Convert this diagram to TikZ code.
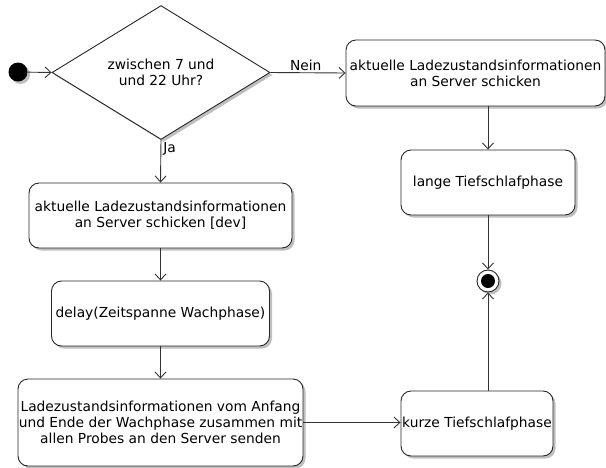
\documentclass[tikz,border=0pt]{standalone}
\usepackage{fontspec}
\setmainfont{DejaVu Sans}
\usepackage{tikz}
\usetikzlibrary{arrows.meta, shapes.geometric, shadows}

\begin{document}
\begin{tikzpicture}[x=1pt, y=-1pt,
    font=\fontsize{13.8}{16.3}\selectfont,
    >={Straight Barb[length=6pt, width=11pt]},
    line width=0.9pt, draw=black!80,
    shade/.style={drop shadow={shadow xshift=2.5pt, shadow yshift=-2.5pt, opacity=0.25, fill=black}},
    act/.style={draw=black!85, fill=white, rounded corners=10pt, align=center, inner sep=0pt, shade},
    lbl/.style={inner sep=2pt}]
      \useasboundingbox (0,0) rectangle (606,467);
      % Ablauf
      \node[circle, fill=black, minimum size=19pt, inner sep=0pt, shade] (start) at (18,72) {};
      \node[draw=black!85, fill=white, diamond, minimum width=218pt, minimum height=131pt,
            inner sep=0pt, align=center, shade] (decide) at (161,72.5) {zwischen 7 und\\und 22 Uhr?};

      \node[act, minimum width=259pt, minimum height=66pt] (sendnein) at (475.5,73) {aktuelle Ladezustandsinformationen\\an Server schicken};
      \node[act, minimum width=174pt, minimum height=65pt] (lang) at (488,182.5) {lange Tiefschlafphase};
      \node[circle, draw=black!85, fill=white, minimum size=22pt, inner sep=0pt, shade] (stop) at (488,281) {};
      \node[circle, fill=black, minimum size=14pt, inner sep=0pt] at (stop) {}; % inner dot of stop
      \node[act, minimum width=152pt, minimum height=65pt] (kurz) at (477,423.5) {kurze Tiefschlafphase};

      \node[act, minimum width=263pt, minimum height=65pt] (sendja) at (160.5,215.5) {aktuelle Ladezustandsinformationen\\an Server schicken [dev]};
      \node[act, minimum width=218pt, minimum height=65pt] (delay) at (160.5,313.5) {delay(Zeitspanne Wachphase)};
      \node[act, minimum width=285pt, minimum height=87pt] (probes) at (160.5,422.5) {Ladezustandsinformationen vom Anfang\\und Ende der Wachphase zusammen mit\\allen Probes an den Server senden};

      \draw[->] (start) -- (decide.west);
      \draw[->] (decide.east) -- (sendnein.west) node[lbl, pos=0.47, above] {Nein};
      \draw[->] (decide.south) -- (sendja.north) node[lbl, pos=0.22, right] {Ja};
      \draw[->] (sendja) -- (delay);
      \draw[->] (delay) -- (probes);
      \draw[->] (probes.east) -- (kurz.west |- probes.east);
      \draw[->] (sendnein.south -| lang) -- (lang);
      \draw[->] (lang) -- (stop);
      \draw[->] (kurz.north -| stop) -- (stop);
    \end{tikzpicture}
\end{document}
